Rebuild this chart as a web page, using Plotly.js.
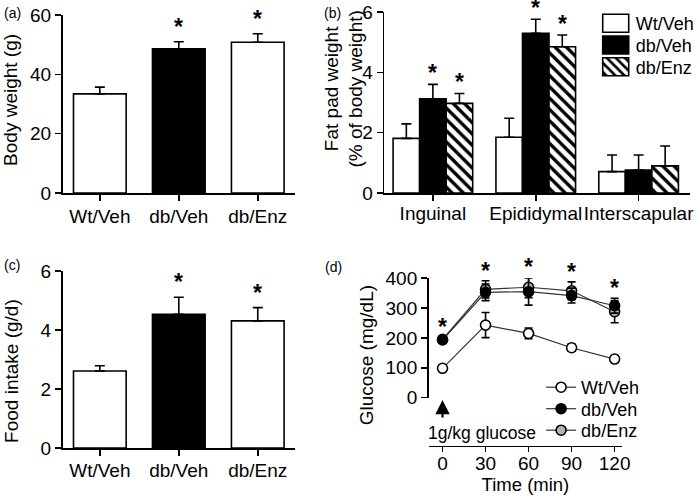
<!DOCTYPE html>
<html>
<head>
<meta charset="utf-8">
<script src="https://cdn.plot.ly/plotly-3.0.1.min.js"></script>
<style>html,body{margin:0;padding:0;background:#fff;}#chart{width:700px;height:499px;}</style>
</head>
<body>
<div id="chart"></div>
<script>
// ---------- data ----------
const groups = ['Wt/Veh', 'db/Veh', 'db/Enz'];

// (a) body weight (g)
const bodyWeight = [33.4, 48.6, 50.8];
const bodyWeightErr = [2.3, 2.4, 2.9];
const bodyWeightSig = [false, true, true];

// (b) fat pad weight (% of body weight)
const depots = ['Inguinal', 'Epididymal', 'Interscapular'];
const fatWtVeh = [1.81, 1.85, 0.71];
const fatWtVehErr = [0.48, 0.63, 0.55];
const fatDbVeh = [3.12, 5.29, 0.76];
const fatDbVehErr = [0.48, 0.47, 0.50];
const fatDbEnz = [2.97, 4.85, 0.90];
const fatDbEnzErr = [0.33, 0.39, 0.66];
const fatSigDbVeh = [true, true, false];
const fatSigDbEnz = [true, true, false];

// (c) food intake (g/d)
const foodIntake = [2.61, 4.53, 4.31];
const foodIntakeErr = [0.18, 0.58, 0.45];
const foodIntakeSig = [false, true, true];

// (d) glucose tolerance (mg/dL)
const timeMin = [0, 30, 60, 90, 120];
const glucWtVeh = [98, 243, 215, 167, 129];
const glucWtVehErr = [6, 42, 18, 12, 10];
const glucDbVeh = [193, 353, 355, 342, 308];
const glucDbVehErr = [8, 28, 45, 25, 25];
const glucDbEnz = [195, 363, 370, 358, 288];
const glucDbEnzErr = [8, 29, 35, 30, 37];
const glucSig = [true, true, true, true, true];

// ---------- styles ----------
const W = 700, H = 499;
const px = v => v / W;
const py = v => 1 - v / H;
const FONT = 'Liberation Sans, Arial, Helvetica, sans-serif';
const fills = ['white', 'black', 'white'];
const shapes = ['', '', '\\'];
const patternBase = {fgcolor: 'black', bgcolor: 'white', size: 8, solidity: 0.42, fillmode: 'replace'};
const zeros = a => a.map(() => 0);
const upErr = (arr) => ({type: 'data', symmetric: false, array: arr, arrayminus: zeros(arr),
  color: 'black', thickness: 1.6, width: 5});

const traces = [];

// (a)
traces.push({
  type: 'bar', x: groups, y: bodyWeight, xaxis: 'x', yaxis: 'y', width: 0.667,
  marker: {color: fills, line: {color: 'black', width: 1.6},
           pattern: Object.assign({shape: shapes}, patternBase)},
  error_y: upErr(bodyWeightErr), showlegend: false, cliponaxis: false
});
// (b)
const fatSeries = [
  {name: groups[0], y: fatWtVeh, e: fatWtVehErr, i: 0},
  {name: groups[1], y: fatDbVeh, e: fatDbVehErr, i: 1},
  {name: groups[2], y: fatDbEnz, e: fatDbEnzErr, i: 2}
];
fatSeries.forEach(s => traces.push({
  type: 'bar', name: s.name, x: depots, y: s.y, xaxis: 'x2', yaxis: 'y2', legend: 'legend',
  marker: {color: fills[s.i], line: {color: 'black', width: 1.6},
           pattern: Object.assign({shape: shapes[s.i]}, patternBase)},
  error_y: upErr(s.e), cliponaxis: false
}));
// (c)
traces.push({
  type: 'bar', x: groups, y: foodIntake, xaxis: 'x3', yaxis: 'y3', width: 0.667,
  marker: {color: fills, line: {color: 'black', width: 1.6},
           pattern: Object.assign({shape: shapes}, patternBase)},
  error_y: upErr(foodIntakeErr), showlegend: false, cliponaxis: false
});
// (d)
const glucSeries = [
  {name: 'Wt/Veh', y: glucWtVeh, e: glucWtVehErr, c: 'white', rank: 1},
  {name: 'db/Enz', y: glucDbEnz, e: glucDbEnzErr, c: '#b4b4b4', rank: 3},
  {name: 'db/Veh', y: glucDbVeh, e: glucDbVehErr, c: 'black', rank: 2}
];
glucSeries.forEach(s => traces.push({
  type: 'scatter', mode: 'lines+markers', name: s.name, x: timeMin, y: s.y,
  xaxis: 'x4', yaxis: 'y4', legend: 'legend2', legendrank: s.rank,
  line: {color: '#333', width: 1.2},
  marker: {symbol: 'circle', size: 10, color: s.c, line: {color: 'black', width: 1.6}},
  error_y: {type: 'data', array: s.e, color: 'black', thickness: 1.6, width: 4},
  cliponaxis: false
}));

// ---------- axes ----------
const axBase = {
  showline: true, linecolor: 'black', linewidth: 1.6, ticks: 'outside', ticklen: 6,
  tickwidth: 1.6, tickcolor: 'black', showgrid: false, zeroline: false, tickangle: 0,
  tickfont: {family: FONT, size: 19, color: 'black'}, fixedrange: true
};
const ax = o => Object.assign({}, axBase, o);

// (d) axis geometry (used to place stars above the axis top in paper units)
const dDomain = [py(397.5), py(278.3)];
const dRange = [0, 400];
const dPaperY = v => dDomain[0] + (v - dRange[0]) / (dRange[1] - dRange[0]) * (dDomain[1] - dDomain[0]);

const annotations = [];
const ann = o => annotations.push(Object.assign({showarrow: false, xanchor: 'center', yanchor: 'middle',
  font: {family: FONT, size: 19, color: 'black'}}, o));

// panel labels
const lab = {family: FONT, size: 14, color: 'black'};
ann({text: '(a)', xref: 'paper', yref: 'paper', x: px(2), y: py(13), xanchor: 'left', font: lab});
ann({text: '(b)', xref: 'paper', yref: 'paper', x: px(324), y: py(13), xanchor: 'left', font: lab});
ann({text: '(c)', xref: 'paper', yref: 'paper', x: px(2), y: py(265), xanchor: 'left', font: lab});
ann({text: '(d)', xref: 'paper', yref: 'paper', x: px(325), y: py(267), xanchor: 'left', font: lab});

// y titles
ann({text: 'Body weight (g)', xref: 'paper', yref: 'paper', x: px(11), y: py(100), textangle: -90});
ann({text: 'Fat pad weight<br>(% of body weight)', xref: 'paper', yref: 'paper', x: px(346), y: py(89), textangle: -90});
ann({text: 'Food intake (g/d)', xref: 'paper', yref: 'paper', x: px(11), y: py(371), textangle: -90});
ann({text: 'Glucose (mg/dL)', xref: 'paper', yref: 'paper', x: px(369), y: py(355), textangle: -90});

// significance stars
const star = (xref, yref, x, y, shift) => ann({text: '<b>*</b>', xref, yref, x, y, yanchor: 'bottom',
  yshift: shift, font: {family: FONT, size: 23, color: 'black'}});
groups.forEach((g, i) => { if (bodyWeightSig[i]) star('x', 'y', g, bodyWeight[i] + bodyWeightErr[i], 0); });
groups.forEach((g, i) => { if (foodIntakeSig[i]) star('x3', 'y3', g, foodIntake[i] + foodIntakeErr[i], 0); });
depots.forEach((d, i) => {
  if (fatSigDbVeh[i]) star('x2', 'y2', i, fatDbVeh[i] + fatDbVehErr[i], -4);
  if (fatSigDbEnz[i]) star('x2', 'y2', i + 0.258, fatDbEnz[i] + fatDbEnzErr[i], -4);
});
timeMin.forEach((t, i) => {
  if (glucSig[i]) {
    const top = Math.max(glucWtVeh[i] + glucWtVehErr[i], glucDbVeh[i] + glucDbVehErr[i], glucDbEnz[i] + glucDbEnzErr[i]);
    star('x4', 'paper', t, dPaperY(top), -5);
  }
});

// glucose injection marker
annotations.push({text: '', xref: 'x4', yref: 'paper', x: 0, y: py(400), ax: 0, ay: 19,
  showarrow: true, arrowhead: 2, arrowsize: 1.3, arrowwidth: 2.2, arrowcolor: 'black', standoff: 0});
ann({text: '1g/kg glucose', xref: 'paper', yref: 'paper', x: px(429), y: py(433), xanchor: 'left',
  font: {family: FONT, size: 17.5, color: 'black'}});

const layout = {
  width: W, height: H, margin: {l: 0, r: 0, t: 0, b: 0},
  paper_bgcolor: 'white', plot_bgcolor: 'white',
  font: {family: FONT, size: 19, color: 'black'},
  barmode: 'group', bargap: 0.226, bargroupgap: 0,
  showlegend: true,
  xaxis: ax({domain: [px(63), px(297)], anchor: 'y', type: 'category', range: [-0.472, 2.47]}),
  yaxis: ax({domain: [py(193), py(15)], anchor: 'x', range: [0, 60], dtick: 20}),
  xaxis2: ax({domain: [px(387), px(695)], anchor: 'y2', type: 'category', range: [-0.473, 2.5],
              ticklabelstandoff: -3}),
  yaxis2: ax({domain: [py(193), py(12)], anchor: 'x2', range: [0, 6], dtick: 2}),
  xaxis3: ax({domain: [px(63), px(297)], anchor: 'y3', type: 'category', range: [-0.472, 2.47],
              ticklabelstandoff: -1}),
  yaxis3: ax({domain: [py(448), py(271)], anchor: 'x3', range: [0, 6], dtick: 2}),
  xaxis4: ax({domain: [px(431.7), px(626.7)], anchor: 'free', position: py(445.7), range: [-9.7, 125.3],
              tickvals: timeMin, ticklen: 5, ticklabelstandoff: -5,
              title: {text: 'Time (min)', standoff: 3, font: {family: FONT, size: 18.5, color: 'black'}}}),
  yaxis4: ax({domain: dDomain, anchor: 'x4', range: dRange, dtick: 100}),
  legend: {x: px(600), xanchor: 'left', y: py(5), yanchor: 'top', bgcolor: 'rgba(0,0,0,0)',
           font: {family: FONT, size: 18, color: 'black'}, tracegroupgap: 0, traceorder: 'normal'},
  legend2: {x: px(545), xanchor: 'left', y: py(369), yanchor: 'top', bgcolor: 'rgba(0,0,0,0)',
           font: {family: FONT, size: 18, color: 'black'}, tracegroupgap: 0, traceorder: 'normal'},
  annotations: annotations
};

function respace(gd, legendClass, spacing) {
  const items = gd.querySelectorAll('g.' + legendClass + ' g.traces');
  let y0 = null;
  items.forEach((g, i) => {
    const m = /translate\(\s*([-\d.e]+)[\s,]+([-\d.e]+)\s*\)/.exec(g.getAttribute('transform') || '');
    if (!m) return;
    if (y0 === null) y0 = parseFloat(m[2]);
    g.setAttribute('transform', 'translate(' + m[1] + ',' + (y0 + i * spacing) + ')');
  });
}

Plotly.newPlot('chart', traces, layout, {staticPlot: true, displayModeBar: false}).then(gd => {
  // enlarge the bar legend swatches to match the reference boxes
  gd.querySelectorAll('g.legend .legendpoints path').forEach(p => {
    p.setAttribute('d', 'M13,9H-13V-9H13Z');
  });
  respace(gd, 'legend', 21.8);
  respace(gd, 'legend2', 21.5);
});
</script>
</body>
</html>
